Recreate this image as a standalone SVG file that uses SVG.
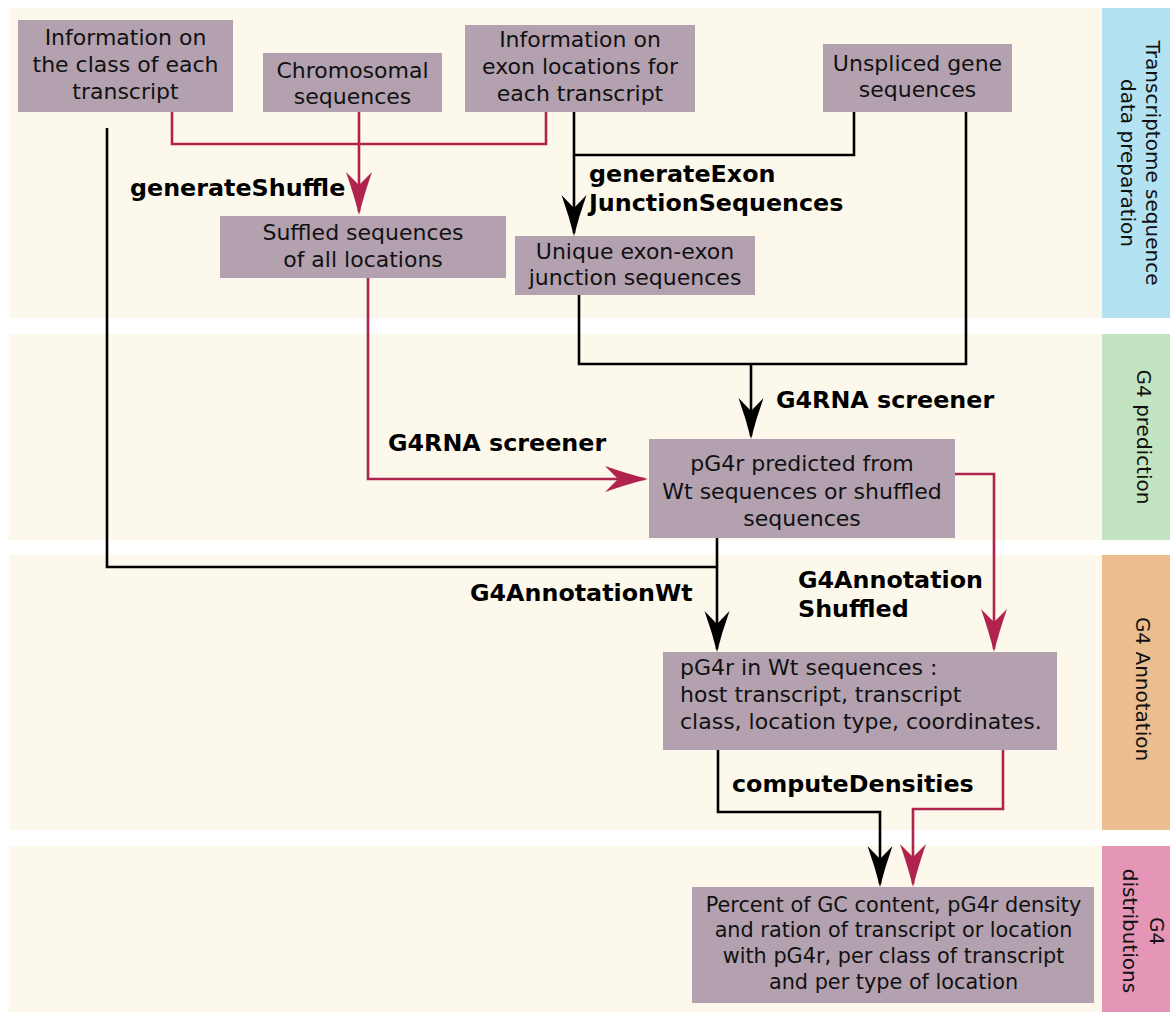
<svg xmlns="http://www.w3.org/2000/svg" width="1170" height="1012" viewBox="0 0 1170 1012">
<style>
.band{fill:#fcf8ec}
.node{fill:#b3a1b0}
.t{font-family:"DejaVu Sans",sans-serif;font-size:22px;fill:#111;text-anchor:middle}
.tl{font-family:"DejaVu Sans",sans-serif;font-size:22px;fill:#111}
.t9{font-family:"DejaVu Sans",sans-serif;font-size:20.8px;fill:#111;text-anchor:middle}
.lab{font-family:"DejaVu Sans",sans-serif;font-size:23.8px;font-weight:bold;fill:#000}
.side{font-family:"DejaVu Sans",sans-serif;font-size:20px;fill:#111;text-anchor:middle}
.cb{fill:none;stroke:#000;stroke-width:2.6}
.cr{fill:none;stroke:#b0234c;stroke-width:2.6}
</style>
<defs>
<marker id="ab" markerUnits="userSpaceOnUse" orient="auto" refX="-3" refY="0" markerWidth="50" markerHeight="30" viewBox="-45 -15 50 30" overflow="visible"><path d="M0,0 Q-20,-5 -41,-12.5 L-28,0 L-41,12.5 Q-20,5 0,0 Z" fill="#000"/></marker>
<marker id="ar" markerUnits="userSpaceOnUse" orient="auto" refX="-3" refY="0" markerWidth="50" markerHeight="30" viewBox="-45 -15 50 30" overflow="visible"><path d="M0,0 Q-20,-5 -43,-13 L-30,0 L-43,13 Q-20,5 0,0 Z" fill="#b0234c"/></marker>
</defs>
<rect width="1170" height="1012" fill="#fff"/>
<g id="lanes">
<rect class="band" x="9" y="8" width="1093" height="310"/>
<rect class="band" x="9" y="334" width="1093" height="206"/>
<rect class="band" x="9" y="555" width="1093" height="275"/>
<rect class="band" x="9" y="846" width="1093" height="166"/>
<rect x="1102" y="8" width="68" height="310" fill="#b3e2f2"/>
<rect x="1102" y="334" width="68" height="206" fill="#c3e4c0"/>
<rect x="1102" y="555" width="68" height="275" fill="#ecbd8e"/>
<rect x="1102" y="846" width="68" height="166" fill="#e595b5"/>
<text class="side" transform="translate(1146,163) rotate(90)"><tspan x="0" y="0">Transcriptome sequence</tspan><tspan x="0" y="25">data preparation</tspan></text>
<text class="side" transform="translate(1137,437) rotate(90)">G4 prediction</text>
<text class="side" transform="translate(1136,689) rotate(90)">G4 Annotation</text>
<text class="side" transform="translate(1150,931) rotate(90)"><tspan x="0" y="0">G4</tspan><tspan x="0" y="27">distributions</tspan></text>
</g>
<g id="connectors">
<path class="cr" d="M172,112 V144 H546 V112"/>
<path class="cr" d="M359,112 V212" marker-end="url(#ar)"/>
<path class="cr" d="M368,278 V479 H645" marker-end="url(#ar)"/>
<path class="cr" d="M955,474 H994 V649" marker-end="url(#ar)"/>
<path class="cr" d="M1003,750 V809 H913 V884" marker-end="url(#ar)"/>
<path class="cb" d="M854,112 V155 H574"/>
<path class="cb" d="M574,112 V233" marker-end="url(#ab)"/>
<path class="cb" d="M579,295 V364 H966 V112"/>
<path class="cb" d="M751,364 V436" marker-end="url(#ab)"/>
<path class="cb" d="M107,128 V567 H717"/>
<path class="cb" d="M717,538 V649" marker-end="url(#ab)"/>
<path class="cb" d="M718,750 V812 H880 V884" marker-end="url(#ab)"/>
<text class="lab" x="130" y="196">generateShuffle</text>
<text class="lab" x="589" y="182">generateExon</text>
<text class="lab" x="589" y="211">JunctionSequences</text>
<text class="lab" x="776" y="408">G4RNA screener</text>
<text class="lab" x="388" y="451">G4RNA screener</text>
<text class="lab" x="470" y="601">G4AnnotationWt</text>
<text class="lab" x="798" y="588">G4Annotation</text>
<text class="lab" x="798" y="617">Shuffled</text>
<text class="lab" x="732" y="792">computeDensities</text>
</g>
<g id="n1"><rect class="node" x="18" y="20" width="215" height="92"/><text class="t" x="125.5" y="45">Information on</text><text class="t" x="125.5" y="72">the class of each</text><text class="t" x="125.5" y="99">transcript</text></g>
<g id="n2"><rect class="node" x="263" y="53" width="179" height="59"/><text class="t" x="352.5" y="78">Chromosomal</text><text class="t" x="352.5" y="104">sequences</text></g>
<g id="n3"><rect class="node" x="465" y="25" width="230" height="87"/><text class="t" x="580" y="47">Information on</text><text class="t" x="580" y="74">exon locations for</text><text class="t" x="580" y="101">each transcript</text></g>
<g id="n4"><rect class="node" x="823" y="44" width="189" height="68"/><text class="t" x="917.5" y="71">Unspliced gene</text><text class="t" x="917.5" y="97">sequences</text></g>
<g id="n5"><rect class="node" x="220" y="216" width="286" height="62"/><text class="t" x="363" y="240">Suffled sequences</text><text class="t" x="363" y="267">of all locations</text></g>
<g id="n6"><rect class="node" x="515" y="236" width="240" height="59"/><text class="t" x="635" y="259">Unique exon-exon</text><text class="t" x="635" y="285">junction sequences</text></g>
<g id="n7"><rect class="node" x="649" y="439" width="306" height="99"/><text class="t" x="802" y="471">pG4r predicted from</text><text class="t" x="802" y="499">Wt sequences or shuffled</text><text class="t" x="802" y="526">sequences</text></g>
<g id="n8"><rect class="node" x="663" y="652" width="394" height="98"/><text class="tl" x="680" y="675">pG4r in Wt sequences :</text><text class="tl" x="680" y="702">host transcript, transcript</text><text class="tl" x="680" y="729">class, location type, coordinates.</text></g>
<g id="n9"><rect class="node" x="692" y="887" width="402" height="116"/><text class="t9" x="893.5" y="912">Percent of GC content, pG4r density</text><text class="t9" x="893.5" y="937">and ration of transcript or location</text><text class="t9" x="893.5" y="963">with pG4r, per class of transcript</text><text class="t9" x="893.5" y="989">and per type of location</text></g>
</svg>
